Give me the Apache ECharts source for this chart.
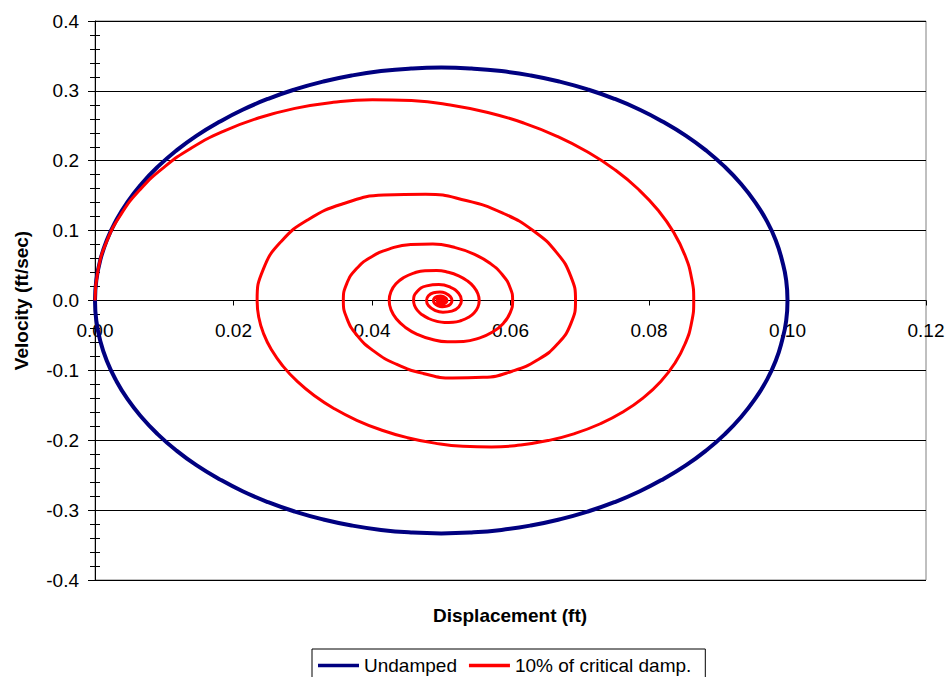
<!DOCTYPE html>
<html>
<head>
<meta charset="utf-8">
<script src="https://cdn.jsdelivr.net/npm/echarts@6/dist/echarts.min.js"></script>
<style>
  html, body { margin: 0; padding: 0; background: #fff; }
  #chart { width: 948px; height: 677px; }
</style>
</head>
<body>
<div id="chart"></div>
<script>
// Phase-plane trajectories: displacement (ft) vs velocity (ft/sec)

// Undamped free vibration (closed ellipse)
const undampedDisp = [
  0, 0.00019, 0.00076, 0.00170, 0.00302, 0.00468, 0.0067, 0.00904, 0.0117, 0.01464,
  0.0179, 0.02132, 0.025, 0.02887, 0.0329, 0.03706, 0.0413, 0.04564, 0.05,
  0.05436, 0.0587, 0.06294, 0.0671, 0.07113, 0.075, 0.07868, 0.0821, 0.08536,
  0.0883, 0.09096, 0.0933, 0.09532, 0.0970, 0.09830, 0.0992, 0.09981, 0.1,
  0.09981, 0.0992, 0.09830, 0.0970, 0.09532, 0.0933, 0.09096, 0.0883, 0.08536,
  0.0821, 0.07868, 0.075, 0.07113, 0.0671, 0.06294, 0.0587, 0.05436, 0.05,
  0.04564, 0.0413, 0.03706, 0.0329, 0.02887, 0.025, 0.02132, 0.0179, 0.01464,
  0.0117, 0.00904, 0.0067, 0.00468, 0.00302, 0.00170, 0.00076, 0.00019, 0
];
const undampedVel = [
  0, 0.0291, 0.0579, 0.0863, 0.1140, 0.1409, 0.1667, 0.1912, 0.2143, 0.2357,
  0.2553, 0.2730, 0.2887, 0.3021, 0.3132, 0.3220, 0.3283, 0.3320, 0.3333,
  0.3320, 0.3283, 0.3220, 0.3132, 0.3021, 0.2887, 0.2730, 0.2553, 0.2357,
  0.2143, 0.1912, 0.1667, 0.1409, 0.1140, 0.0863, 0.0579, 0.0291, 0,
  -0.0291, -0.0579, -0.0863, -0.1140, -0.1409, -0.1667, -0.1912, -0.2143, -0.2357,
  -0.2553, -0.2730, -0.2887, -0.3021, -0.3132, -0.3220, -0.3283, -0.3320, -0.3333,
  -0.3320, -0.3283, -0.3220, -0.3132, -0.3021, -0.2887, -0.2730, -0.2553, -0.2357,
  -0.2143, -0.1912, -0.1667, -0.1409, -0.1140, -0.0863, -0.0579, -0.0291, 0
];

// 10% of critical damping (inward spiral)
const dampedDisp = [
  0, 0.00043, 0.00169, 0.00375, 0.00653, 0.00999, 0.01404, 0.01860, 0.02358, 0.02888, 0.03440, 0.04004,
  0.04571, 0.05130, 0.05673, 0.06190, 0.06673, 0.07115, 0.07510, 0.07851, 0.08135, 0.08358, 0.08518, 0.08614,
  0.08646, 0.08615, 0.08523, 0.08373, 0.08170, 0.07917, 0.07622, 0.07289, 0.06927, 0.06540, 0.06138, 0.05726,
  0.05313, 0.04905, 0.04510, 0.04133, 0.03780, 0.03458, 0.03170, 0.02921, 0.02714, 0.02551, 0.02434, 0.02364,
  0.02341, 0.02431, 0.02689, 0.03088, 0.03595, 0.04170, 0.04772, 0.05358, 0.05890, 0.06335, 0.06667, 0.06871,
  0.06939, 0.06873, 0.06685, 0.06394, 0.06024, 0.05605, 0.05166, 0.04739, 0.04351, 0.04027, 0.03784, 0.03636,
  0.03586, 0.03634, 0.03771, 0.03983, 0.04253, 0.04559, 0.04879, 0.05190, 0.05473, 0.05710, 0.05886, 0.05995,
  0.06031, 0.05996, 0.05896, 0.05741, 0.05545, 0.05322, 0.05088, 0.04861, 0.04655, 0.04483, 0.04354, 0.04275,
  0.04248, 0.04274, 0.04346, 0.04459, 0.04603, 0.04765, 0.04935, 0.05101, 0.05252, 0.05377, 0.05471, 0.05529,
  0.05548, 0.05530, 0.05477, 0.05394, 0.05290, 0.05171, 0.05047, 0.04926, 0.04817, 0.04725, 0.04656, 0.04614,
  0.04600, 0.04652, 0.04789, 0.04966, 0.05134, 0.05251, 0.05292, 0.05253, 0.05154, 0.05025, 0.04902, 0.04817,
  0.04787, 0.04815, 0.04888, 0.04982, 0.05071, 0.05133, 0.05155, 0.05135, 0.05082, 0.05013, 0.04948, 0.04903,
  0.04887, 0.04902, 0.04940, 0.04990, 0.05038, 0.05071, 0.05082, 0.05072, 0.05044, 0.05007, 0.04972, 0.04948,
  0.04940, 0.04968, 0.05020, 0.05044, 0.05023, 0.04985,
  0.04968, 0.05015, 0.05023, 0.04990, 0.04983
];
const dampedVel = [
  0, 0.04315, 0.08445, 0.12324, 0.15891, 0.19095, 0.21890, 0.24239, 0.26113, 0.27494, 0.28369, 0.28738,
  0.28607, 0.27992, 0.26915, 0.25406, 0.23504, 0.21250, 0.18693, 0.15883, 0.12874, 0.09725, 0.06491, 0.03231,
  0, -0.03147, -0.06158, -0.08986, -0.11588, -0.13924, -0.15963, -0.17675, -0.19042, -0.20049, -0.20687, -0.20956,
  -0.20861, -0.20412, -0.19627, -0.18527, -0.17140, -0.15496, -0.13631, -0.11582, -0.09388, -0.07091, -0.04734, -0.02356,
  0, 0.04491, 0.08450, 0.11640, 0.13886, 0.15086, 0.15212, 0.14312, 0.12499, 0.09940, 0.06846, 0.03452,
  0, -0.03275, -0.06162, -0.08488, -0.10126, -0.11001, -0.11093, -0.10437, -0.09114, -0.07249, -0.04992, -0.02517,
  0, 0.02388, 0.04494, 0.06190, 0.07384, 0.08022, 0.08089, 0.07610, 0.06646, 0.05286, 0.03640, 0.01835,
  0, -0.01741, -0.03277, -0.04514, -0.05384, -0.05850, -0.05899, -0.05550, -0.04846, -0.03854, -0.02655, -0.01338,
  0, 0.01270, 0.02389, 0.03291, 0.03926, 0.04266, 0.04301, 0.04047, 0.03534, 0.02811, 0.01936, 0.00976,
  0, -0.00926, -0.01742, -0.02400, -0.02863, -0.03111, -0.03137, -0.02951, -0.02577, -0.02050, -0.01412, -0.00712,
  0, 0.01271, 0.02088, 0.02287, 0.01879, 0.01029, 0, -0.00926, -0.01522, -0.01668, -0.01370, -0.00751,
  0, 0.00676, 0.01110, 0.01216, 0.00999, 0.00547, 0, -0.00493, -0.00810, -0.00887, -0.00729, -0.00399,
  0, 0.00359, 0.00590, 0.00647, 0.00531, 0.00291, 0, -0.00262, -0.00431, -0.00472, -0.00388, -0.00212,
  0, 0.00314, 0.00283, 0, -0.00229, -0.00206,
  0, 0.0015, 0, -0.0012, 0
];

// Axis ranges
const dispRange = [0, 0.12, 0.02];
const velRange = [-0.4, 0.4, 0.1];

const seriesNames = ['Undamped', '10% of critical damp.'];
const axisTitles = ['Displacement (ft)', 'Velocity (ft/sec)'];

const zip = (xs, ys) => xs.map((x, i) => [x, ys[i]]);

const FONT = '"Liberation Sans", Arial, Helvetica, sans-serif';

const GRID = { left: 95, top: 21, right: 22, bottom: 97 };
const plotHeight = 677 - GRID.top - GRID.bottom;
// place the displacement axis on the zero-velocity line
const zeroOffset = -plotHeight * (0 - velRange[0]) / (velRange[1] - velRange[0]);

const chart = echarts.init(document.getElementById('chart'), null, { renderer: 'svg' });

const minorTickCommon = { show: true, splitNumber: 5, length: 5, lineStyle: { color: '#000', width: 1 } };

chart.setOption({
  animation: false,
  backgroundColor: '#fff',
  grid: Object.assign({
    show: true, borderColor: '#808080', borderWidth: 1,
    outerBoundsMode: 'none'
  }, GRID),
  xAxis: {
    type: 'value', position: 'bottom', offset: zeroOffset,
    min: dispRange[0], max: dispRange[1], interval: dispRange[2],
    axisLine: { show: true, onZero: false, lineStyle: { color: '#000', width: 1 } },
    axisTick: { show: true, length: 5, lineStyle: { color: '#000' } },
    axisLabel: {
      margin: 20, fontSize: 19, color: '#000', fontFamily: FONT,
      formatter: v => v.toFixed(2)
    },
    splitLine: { show: false }
  },
  yAxis: [
    {
      type: 'value', position: 'left',
      min: velRange[0], max: velRange[1], interval: velRange[2],
      axisLine: { show: true, onZero: false, lineStyle: { color: '#000', width: 1 } },
      axisTick: { show: true, length: 7, lineStyle: { color: '#000' } },
      minorTick: minorTickCommon,
      axisLabel: {
        margin: 16, fontSize: 19, color: '#000', fontFamily: FONT,
        formatter: v => v.toFixed(1)
      },
      splitLine: { show: true, lineStyle: { color: '#000', width: 1 } },
      name: axisTitles[1],
      nameLocation: 'middle',
      nameGap: 64,
      nameTextStyle: { fontSize: 19, fontWeight: 'bold', color: '#000', fontFamily: FONT }
    },
    {
      // inner half of the crossing minor ticks
      type: 'value', position: 'left', offset: 0,
      min: velRange[0], max: velRange[1], interval: velRange[2],
      axisLine: { show: false, onZero: false },
      axisTick: { show: false, inside: true },
      minorTick: minorTickCommon,
      axisLabel: { show: false },
      splitLine: { show: false }
    }
  ],
  graphic: [
    {
      type: 'text', x: 510, y: 615,
      style: {
        text: axisTitles[0], fill: '#000',
        font: 'bold 19px ' + FONT,
        textAlign: 'center', textVerticalAlign: 'middle'
      }
    }
  ],
  legend: {
    left: 312, top: 649,
    icon: 'rect',
    itemWidth: 41, itemHeight: 3.5, itemGap: 12,
    padding: [7, 14, 14, 6],
    borderColor: '#000', borderWidth: 1,
    textStyle: { fontSize: 19, color: '#000', fontFamily: FONT },
    data: seriesNames
  },
  series: [
    {
      name: seriesNames[0], type: 'line',
      data: zip(undampedDisp, undampedVel),
      symbol: 'none', showSymbol: false, smooth: true,
      lineStyle: { color: '#000080', width: 4 },
      itemStyle: { color: '#000080' }
    },
    {
      name: seriesNames[1], type: 'line',
      data: zip(dampedDisp, dampedVel),
      symbol: 'none', showSymbol: false, smooth: true,
      lineStyle: { color: '#ff0000', width: 3 },
      itemStyle: { color: '#ff0000' }
    }
  ]
});
</script>
</body>
</html>
